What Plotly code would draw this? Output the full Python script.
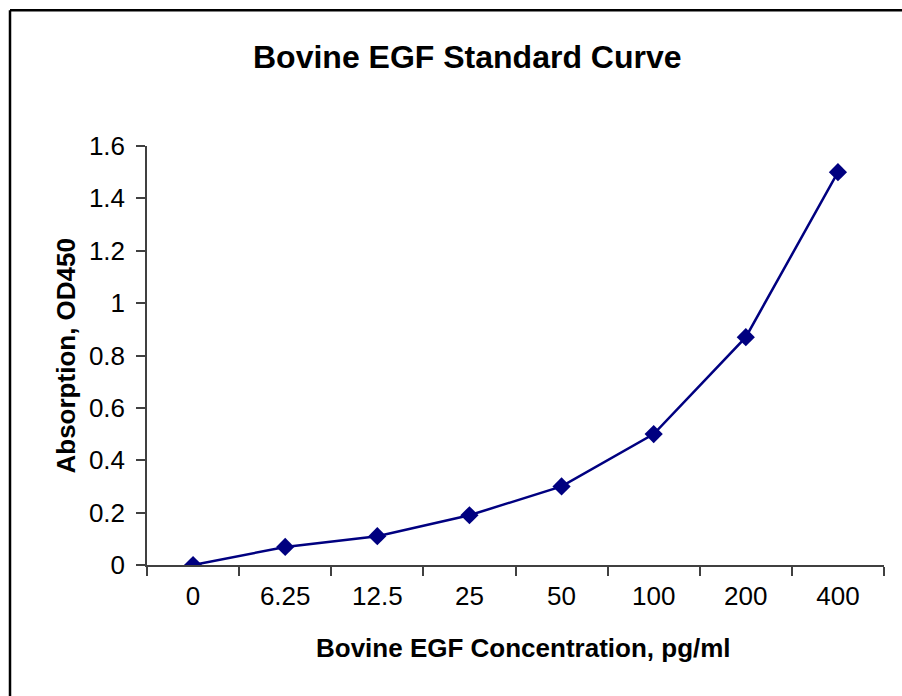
import plotly.graph_objects as go

categories = ["0", "6.25", "12.5", "25", "50", "100", "200", "400"]
od450 = [0.0, 0.069, 0.11, 0.19, 0.30, 0.50, 0.87, 1.50]
y_ticks = [0, 0.2, 0.4, 0.6, 0.8, 1.0, 1.2, 1.4, 1.6]
y_tick_labels = ["0", "0.2", "0.4", "0.6", "0.8", "1", "1.2", "1.4", "1.6"]

title_text = "Bovine EGF Standard Curve"
x_title = "Bovine EGF Concentration, pg/ml"
y_title = "Absorption, OD450"

FONT = "Liberation Sans, Arial, sans-serif"
NAVY = "#000080"
AXIS = "#404040"

W, H = 902, 696
# plot-area edges in page pixels
L, R, T, B = 147, 884, 146, 565
pw, ph = R - L, B - T

def px(x):
    return (x - L) / pw

def py(y):
    return (B - y) / ph

fig = go.Figure()
fig.add_trace(go.Scatter(
    x=categories, y=od450, mode="lines+markers",
    line=dict(color=NAVY, width=2.5),
    marker=dict(symbol="diamond", size=14, color=NAVY),
    showlegend=False,
))

fig.update_layout(
    width=W, height=H,
    margin=dict(l=L, r=W - R, t=T, b=H - B, pad=0),
    paper_bgcolor="white", plot_bgcolor="white",
    font=dict(family=FONT, color="black", size=26),
    xaxis=dict(
        type="category", range=[-0.5, len(categories) - 0.5],
        tickson="boundaries", ticks="outside", ticklen=9, tickwidth=1.5, tickcolor=AXIS,
        showline=True, linecolor=AXIS, linewidth=1.5, showgrid=False, zeroline=False,
        tickfont=dict(size=26, family=FONT, color="black"),
        ticklabelstandoff=7,
    ),
    yaxis=dict(
        range=[0, 1.6], tickvals=y_ticks, ticktext=y_tick_labels,
        ticks="outside", ticklen=9, tickwidth=1.5, tickcolor=AXIS,
        showline=True, linecolor=AXIS, linewidth=1.5, showgrid=False, zeroline=False,
        tickfont=dict(size=26, family=FONT, color="black"),
        ticklabelstandoff=6,
    ),
    annotations=[
        dict(text="<b>" + title_text + "</b>", xref="paper", yref="paper",
             x=px(467.5), y=py(57), xanchor="center", yanchor="middle",
             showarrow=False, font=dict(size=32, family=FONT, color="black")),
        dict(text="<b>" + x_title + "</b>", xref="paper", yref="paper",
             x=px(523.5), y=py(648), xanchor="center", yanchor="middle",
             showarrow=False, font=dict(size=26, family=FONT, color="black")),
        dict(text="<b>" + y_title + "</b>", xref="paper", yref="paper",
             x=px(65), y=py(356.5), xanchor="center", yanchor="middle", textangle=-90,
             showarrow=False, font=dict(size=26, family=FONT, color="black")),
    ],
    shapes=[
        dict(type="line", xref="paper", yref="paper",
             x0=px(10), x1=px(10), y0=py(720), y1=py(10.3),
             line=dict(color="black", width=2.5), layer="above"),
        dict(type="line", xref="paper", yref="paper",
             x0=px(10), x1=px(920), y0=py(10.3), y1=py(10.3),
             line=dict(color="black", width=2.5), layer="above"),
    ],
)

fig.write_html(
    "out.html",
    config={"displayModeBar": False},
    post_script="document.body.style.margin='0';document.body.style.overflow='hidden';"
                "document.documentElement.style.overflow='hidden';",
)
